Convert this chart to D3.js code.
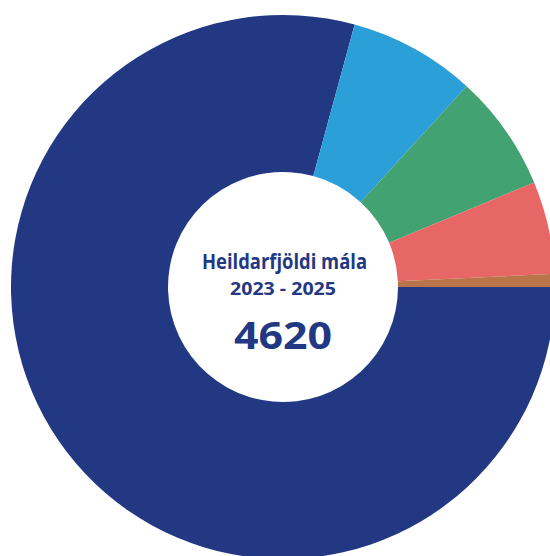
<!DOCTYPE html>
<html>
<head>
<meta charset="utf-8">
<script src="https://cdn.jsdelivr.net/npm/d3@7"></script>
<style>
html,body{margin:0;padding:0;background:#fff;overflow:hidden;}
svg{display:block;}
</style>
</head>
<body>
<svg id="chart" width="550" height="556"></svg>
<script>
const categories = ["A", "B", "C", "D", "E"];
const values = [3661, 349, 320, 254, 36];
const colors = ["#223883", "#2b9fd8", "#42a272", "#e66766", "#b9744a"];
const titleLines = ["Heildarfjöldi mála", "2023 - 2025"];
const totalLabel = "4620";

const svg = d3.select("#chart");
const cx = 283, cy = 287, outerR = 272, innerR = 115;
const g = svg.append("g").attr("transform", `translate(${cx},${cy})`);

const pie = d3.pie().sort(null).value(d => d.v)
  .startAngle(Math.PI / 2).endAngle(Math.PI / 2 + 2 * Math.PI);
const arc = d3.arc().innerRadius(innerR).outerRadius(outerR);
const color = d3.scaleOrdinal().domain(categories).range(colors);

const data = categories.map((c, i) => ({c, v: values[i]}));
g.selectAll("path").data(pie(data)).join("path")
  .attr("d", arc)
  .attr("fill", d => color(d.data.c));

const font = "'Open Sans', Lato, sans-serif";
function fitText(txt, x0, x1, y, size, weight) {
  return g.append("text").attr("x", (x0 + x1) / 2 - cx).attr("y", y - cy)
    .attr("text-anchor", "middle")
    .attr("font-family", font).attr("font-weight", weight)
    .attr("font-size", size).attr("fill", "#223883")
    .attr("textLength", x1 - x0).attr("lengthAdjust", "spacingAndGlyphs")
    .text(txt);
}
fitText(titleLines[0], 202, 367, 269, 20.5, 700);
fitText(titleLines[1], 230, 336, 295, 18, 700);
fitText(totalLabel, 234, 332, 349, 38, 700);
</script>
</body>
</html>
